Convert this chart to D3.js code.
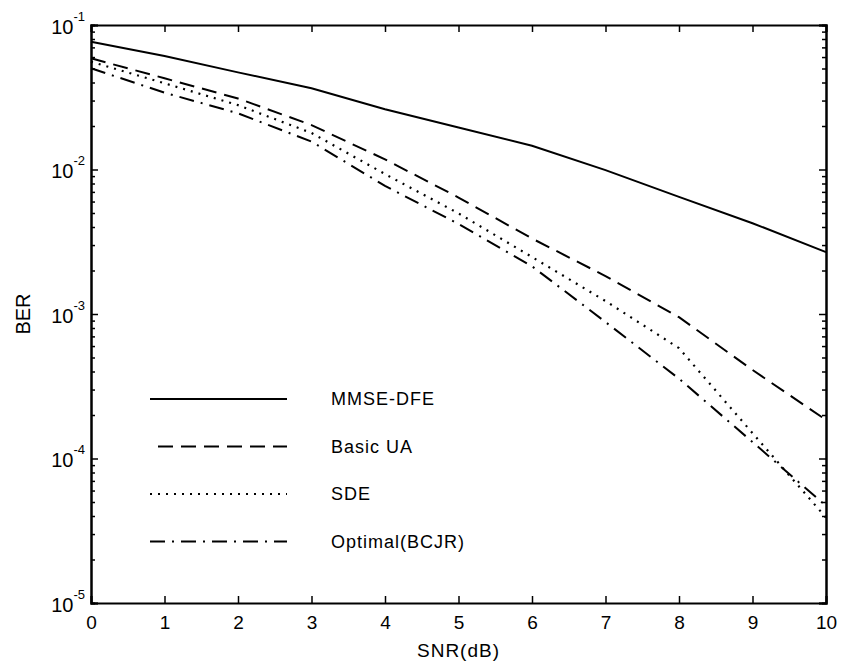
<!DOCTYPE html>
<html>
<head>
<meta charset="utf-8">
<script src="https://cdn.jsdelivr.net/npm/d3@7"></script>
<style>
  body { margin: 0; background: #fff; }
  svg text { font-family: "Liberation Sans", Arial, Helvetica, sans-serif; fill: #000; }
</style>
</head>
<body>
<div class="plot" style="width:841px;height:667px"></div>
<script>
// values
var snr = [0, 1, 2, 3, 4, 5, 6, 7, 8, 9, 10];
var mmseDfe = [0.0766, 0.061, 0.047, 0.0365, 0.0261, 0.0195, 0.0146, 0.0099, 0.00647, 0.00425, 0.00268];
var basicUA = [0.0588, 0.0428, 0.031, 0.0203, 0.01175, 0.0064, 0.00333, 0.00183, 0.00095, 0.00041, 0.000185];
var sde     = [0.0557, 0.0395, 0.0279, 0.0179, 0.0093, 0.00497, 0.00248, 0.00123, 0.00058, 0.00015, 0.000039];
var optimal = [0.0502, 0.034, 0.0245, 0.0156, 0.0077, 0.0042, 0.00214, 0.00088, 0.000357, 0.00013, 0.000047];
var seriesNames = ["MMSE-DFE", "Basic UA", "SDE", "Optimal(BCJR)"];
var dashes = [null, "15,8", "2,6", "15,7,2,7"];
var xTicks = [0, 1, 2, 3, 4, 5, 6, 7, 8, 9, 10];
var yExp = [-1, -2, -3, -4, -5];

var m = {t:25, r:15, b:64, l:91},
	W = 841, H = 667,
	w = W - m.l - m.r,
	h = H - m.t - m.b;

var svg = d3.select('.plot').append('svg')
	.attr('width', W).attr('height', H);

var x = d3.scaleLinear().domain([0, 10]).range([0, w]);
var y = d3.scaleLog().domain([1e-5, 1e-1]).range([h, 0]);

var g = svg.append('g').attr('transform', 'translate(' + m.l + ',' + m.t + ')');

// minor log ticks
var minors = [];
yExp.slice(1).forEach(function(e) {
	for (var k = 2; k <= 9; k++) minors.push(k * Math.pow(10, e));
});
var majors = yExp.map(function(e) { return Math.pow(10, e); });

function styleAxis(sel) {
	sel.selectAll('path').attr('stroke', '#000').attr('stroke-width', 2);
	sel.selectAll('line').attr('stroke', '#000').attr('stroke-width', 1.5);
}

g.append('g').call(d3.axisLeft(y).tickValues(minors).tickSize(-4).tickFormat('')).call(styleAxis);
g.append('g').attr('transform', 'translate(' + w + ',0)')
	.call(d3.axisRight(y).tickValues(minors).tickSize(-4).tickFormat('')).call(styleAxis);
g.append('g').attr('transform', 'translate(' + w + ',0)')
	.call(d3.axisRight(y).tickValues(majors).tickSize(-7).tickFormat('')).call(styleAxis);

var yl = g.append('g').call(d3.axisLeft(y).tickValues(majors).tickSize(-7).tickFormat('')).call(styleAxis);
yl.selectAll('.tick').append('text')
	.attr('x', -6).attr('y', 8)
	.attr('text-anchor', 'end')
	.style('font-size', '20px')
	.each(function(d) {
		var t = d3.select(this);
		t.append('tspan').text('10');
		t.append('tspan').attr('dy', -13).style('font-size', '13px')
			.text('-' + Math.round(-Math.log10(d)));
	});

var xb = g.append('g').attr('transform', 'translate(0,' + h + ')')
	.call(d3.axisBottom(x).tickValues(xTicks).tickSize(-7).tickPadding(13).tickFormat(d3.format('d')))
	.call(styleAxis);
xb.selectAll('text').style('font-size', '19px');
g.append('g').call(d3.axisTop(x).tickValues(xTicks).tickSize(-7).tickFormat('')).call(styleAxis);

// curves
var data = [mmseDfe, basicUA, sde, optimal];
var line = d3.line()
	.x(function(d, i) { return x(snr[i]); })
	.y(function(d) { return y(d); });

g.selectAll('.curve')
	.data(data)
	.enter()
	.append('path')
	.attr('class', 'curve')
	.attr('d', line)
	.attr('fill', 'none')
	.attr('stroke', '#000')
	.attr('stroke-width', function(d, i) { return i == 2 ? 2.2 : 2; })
	.attr('stroke-dasharray', function(d, i) { return dashes[i]; });

// legend (no box)
var lg = svg.append('g').attr('class', 'legend');
var rows = lg.selectAll('g').data(seriesNames).enter().append('g')
	.attr('transform', function(d, i) { return 'translate(150,' + (399 + i * 47.5) + ')'; });
rows.append('line')
	.attr('x1', function(d, i) { return i == 1 ? 8 : 0; }).attr('x2', 137)
	.attr('y1', 0).attr('y2', 0)
	.attr('stroke', '#000').attr('stroke-width', 2)
	.attr('stroke-dasharray', function(d, i) { return dashes[i]; });
rows.append('text')
	.attr('x', 181).attr('y', 6)
	.style('font-size', '18px')
	.style('letter-spacing', '1px')
	.text(function(d) { return d; });

// axis labels
svg.append('text')
	.attr('x', m.l + w / 2).attr('y', 657)
	.attr('text-anchor', 'middle')
	.style('font-size', '19px')
	.style('letter-spacing', '1px')
	.text('SNR(dB)');
svg.append('text')
	.attr('transform', 'translate(30,' + (m.t + h / 2) + ') rotate(-90)')
	.attr('text-anchor', 'middle')
	.style('font-size', '20px')
	.text('BER');
</script>
</body>
</html>
